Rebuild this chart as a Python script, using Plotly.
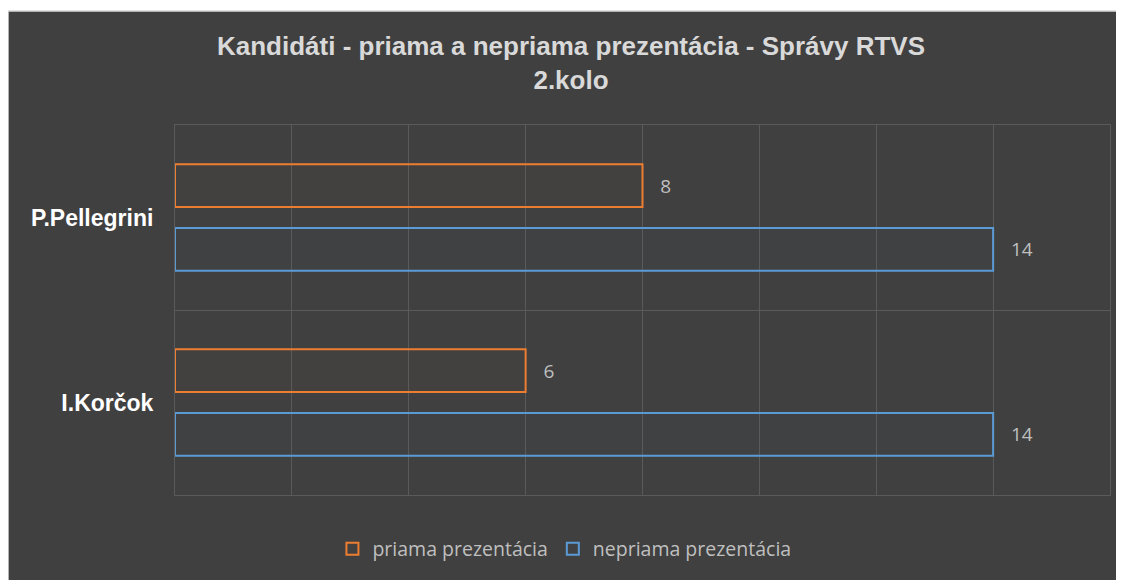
import plotly.graph_objects as go

candidates = ["P.Pellegrini", "I.Korčok"]
priama = [8, 6]
nepriama = [14, 14]
series_names = ["priama prezentácia", "nepriama prezentácia"]
title_lines = ["Kandidáti - priama a nepriama prezentácia - Správy RTVS", "2.kolo"]

# page body has an 8px margin, so the figure is sized to fit inside it
W, H = 1116, 572
ML, MR, MT, MB = 167, 14, 117, 85
pw, ph = W - ML - MR, H - MT - MB

label_font = dict(color="#bfbfbf", size=19, family="Open Sans")
grid = "#5a5a5a"

fig = go.Figure()
fig.add_trace(go.Bar(
    y=candidates, x=priama, orientation="h", name=series_names[0],
    marker=dict(color="rgba(237,125,49,0.015)", line=dict(color="#ED7D31", width=2)),
    text=priama, texttemplate="   %{x}", textposition="outside", cliponaxis=False,
    textfont=label_font,
))
fig.add_trace(go.Bar(
    y=candidates, x=nepriama, orientation="h", name=series_names[1],
    marker=dict(color="rgba(91,155,213,0.015)", line=dict(color="#5B9BD5", width=2)),
    text=nepriama, texttemplate="   %{x}", textposition="outside", cliponaxis=False,
    textfont=label_font,
))

# dark panel with thin light border (white strip at the top)
x0 = (0 - ML) / pw
x1 = (W - ML) / pw
y1 = (H - MB - 3) / ph
y0 = (H - MB - H) / ph
fig.add_shape(type="rect", xref="paper", yref="paper", x0=x0, x1=x1 + 0.01, y0=y0 - 0.01, y1=y1,
              fillcolor="#404040", line=dict(color="#d9d9d9", width=1.5), layer="below")

fig.update_layout(
    width=W, height=H,
    margin=dict(l=ML, r=MR, t=MT, b=MB),
    paper_bgcolor="white", plot_bgcolor="rgba(0,0,0,0)",
    barmode="group", bargap=0.312, bargroupgap=0.328,
    title=dict(text="<b>" + "<br>".join(title_lines) + "</b>", x=0.5045, xref="container",
               y=0.918, yref="container", yanchor="top",
               font=dict(family="Liberation Sans, Arial", size=26, color="#d9d9d9")),
    xaxis=dict(range=[0, 16], dtick=2, showticklabels=False, showgrid=True,
               gridcolor=grid, gridwidth=1, zeroline=False,
               showline=True, mirror=True, linecolor=grid, linewidth=1),
    yaxis=dict(type="category", autorange="reversed", tickson="boundaries",
               showgrid=True, gridcolor=grid, gridwidth=1, ticks="",
               ticklen=0, zeroline=False,
               showline=True, mirror=True, linecolor=grid, linewidth=1,
               tickfont=dict(family="Liberation Sans, Arial", size=23, color="white"),
               ticklabelstandoff=16),
    legend=dict(orientation="h", x=0.4165, xanchor="center", y=-0.146, yanchor="middle",
                font=dict(family="Open Sans", size=19.5, color="#bfbfbf"),
                bgcolor="rgba(0,0,0,0)", itemwidth=30),
    showlegend=True,
)
fig.update_yaxes(ticktext=["<b>%s</b>" % c for c in candidates], tickvals=candidates)

fig.write_html("out.html")
